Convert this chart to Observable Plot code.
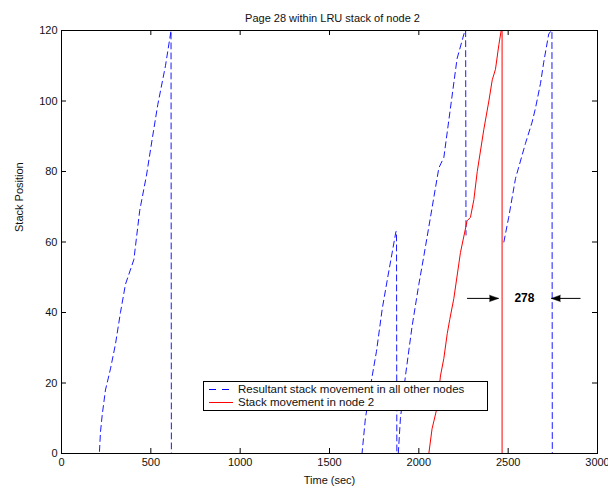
<!DOCTYPE html>
<html>
<head>
<meta charset="utf-8">
<script src="https://cdn.jsdelivr.net/npm/d3@7"></script>
<script src="https://cdn.jsdelivr.net/npm/@observablehq/plot@0.6"></script>
<style>
  html, body { margin: 0; padding: 0; background: #fff; }
  #wrap { position: relative; width: 608px; height: 491px; font-family: "Liberation Sans", Arial, Helvetica, sans-serif; }
  #wrap > svg { overflow: visible; }
  #legend { position: absolute; left: 203px; top: 381px; width: 283px; height: 28px; border: 1.5px solid #000; background: #fff; font-size: 11.5px; color: #111; }
  #legend .row { position: absolute; left: 0; height: 13px; line-height: 13px; white-space: nowrap; }
  #legend svg { position: absolute; left: 3px; top: 0; }
  #legend span { position: absolute; left: 34px; top: 0; }
</style>
</head>
<body>
<div id="wrap"></div>
<script>
// ---- data ----
const title = "Page 28 within LRU stack of node 2";
const xLabel = "Time (sec)";
const yLabel = "Stack Position";
const seriesNames = ["Resultant stack movement in all other nodes", "Stack movement in node 2"];

const xTicks = [0, 500, 1000, 1500, 2000, 2500, 3000];
const yTicks = [0, 20, 40, 60, 80, 100, 120];

// Blue dashed: resultant stack movement in all other nodes (NaN = gap)
const blueTime = [0, 212, 218, 228, 246, 274, 302, 330, 358, 405, 438, 476, 507, 539, 582, 610, 613, 615,
  1682, 1701, 1739, 1763, 1795, 1826, 1872, 1875, 1877,
  1885, 1897, 1925, 1962, 2000, 2028, 2065, 2112, 2140, 2177, 2214, 2258, 2262, 2264,
  2266,
  2476, 2503, 2541, 2597, 2634, 2653, 2681, 2699, 2727, 2742, 2745, 2747, 3000];
const bluePos = [0, 0, 6, 11, 18, 24, 31, 40, 48, 55, 69, 79, 89, 99, 110, 119, 120, 0,
  0, 10, 22, 29, 41, 50, 63, 63, 0,
  0, 10, 22, 36, 48, 56, 67, 81, 84, 98, 112, 120, 120, 62,
  NaN,
  60, 67, 78, 88, 94, 98, 105, 111, 119, 120, 120, 0, 0];

// Red solid: stack movement in node 2
const redTime = [0, 2056, 2074, 2102, 2121, 2140, 2159, 2173, 2196, 2233, 2270, 2289, 2308, 2327, 2364, 2392, 2411, 2429, 2448, 2461, 2466, 2466, 3000];
const redPos = [0, 0, 7, 13, 22, 27, 34, 38, 44, 57, 66, 67, 72, 80, 92, 100, 106, 109, 116, 120, 120, 0, 0];

// Annotation: gap between red drop and blue drop
const gapLabel = "278";
const gapY = 44;
const arrowTails = [2270, 2905];
const arrowTips = [2446, 2742];
const gapLabelX = 2591;

// ---- build ----
const blue = blueTime.map((t, i) => ({t, p: bluePos[i]}));
const red = redTime.map((t, i) => ({t, p: redPos[i]}));
const arrows = arrowTails.map((x1, i) => ({x1, x2: arrowTips[i], dir: arrowTips[i] > x1 ? 90 : -90}));

const font = "Liberation Sans, Arial, Helvetica, sans-serif";
const fmt = d => String(d);

const chart = Plot.plot({
  width: 608,
  height: 491,
  marginLeft: 61,
  marginRight: 11,
  marginTop: 30,
  marginBottom: 38,
  style: {fontFamily: font, fontSize: "11px", background: "white", color: "#111", overflow: "visible"},
  x: {domain: [0, 3000]},
  y: {domain: [0, 120]},
  marks: [
    Plot.line(blue, {x: "t", y: "p", stroke: "#0000ff", strokeWidth: 1, strokeDasharray: "6,4", strokeOpacity: 0.9}),
    Plot.line(red, {x: "t", y: "p", stroke: "#ff0000", strokeWidth: 1}),
    // annotation arrows
    Plot.link(arrows, {x1: "x1", x2: "x2", y1: () => gapY, y2: () => gapY, stroke: "black", strokeWidth: 1}),
    Plot.vector(arrows, {x: "x2", y: () => gapY, rotate: "dir", length: 9, r: 3.2, shape: "spike", anchor: "end", fill: "black", stroke: "black", strokeWidth: 0.5}),
    Plot.text([gapLabel], {x: () => gapLabelX, y: () => gapY, fontWeight: "bold", fontSize: 12, fill: "black"}),
    // frame
    Plot.frame({stroke: "black", strokeWidth: 1}),
    // inward ticks (MATLAB style) bottom/top
    Plot.ruleX(xTicks, {x: d => d, y1: () => 0, y2: () => 0, insetTop: -5, stroke: "black"}),
    Plot.ruleX(xTicks, {x: d => d, y1: () => 120, y2: () => 120, insetBottom: -5, stroke: "black"}),
    // inward ticks left/right
    Plot.ruleY(yTicks, {y: d => d, x1: () => 0, x2: () => 0, insetRight: -5, stroke: "black"}),
    Plot.ruleY(yTicks, {y: d => d, x1: () => 3000, x2: () => 3000, insetLeft: -5, stroke: "black"}),
    Plot.axisX(xTicks, {tickSize: 0, tickPadding: 5, label: null, fontSize: 11, tickFormat: fmt}),
    Plot.axisY(yTicks, {tickSize: 0, tickPadding: 4, label: null, fontSize: 11, tickFormat: fmt}),
    Plot.text([xLabel], {frameAnchor: "bottom", dy: 30, fontSize: 11, fill: "#111"}),
    Plot.text([yLabel], {frameAnchor: "left", rotate: -90, dx: -42, dy: -10, fontSize: 11, fill: "#111"}),
    Plot.text([title], {frameAnchor: "top", dy: -16, dx: 3, fontSize: 11, fill: "#111"})
  ]
});

const wrap = document.getElementById("wrap");
wrap.appendChild(chart);

// legend
const legend = document.createElement("div");
legend.id = "legend";
const styles = [{stroke: "#0000ff", dash: "7,6"}, {stroke: "#ff0000", dash: null}];
seriesNames.forEach((name, i) => {
  const row = document.createElement("div");
  row.className = "row";
  row.style.top = (i === 0 ? 1 : 14) + "px";
  row.style.width = "100%";
  const s = styles[i];
  row.innerHTML = `<svg width="28" height="13"><line x1="2" x2="26" y1="6.5" y2="6.5" stroke="${s.stroke}" stroke-width="1" ${s.dash ? `stroke-dasharray="${s.dash}"` : ""}/></svg><span>${name}</span>`;
  legend.appendChild(row);
});
wrap.appendChild(legend);
</script>
</body>
</html>
